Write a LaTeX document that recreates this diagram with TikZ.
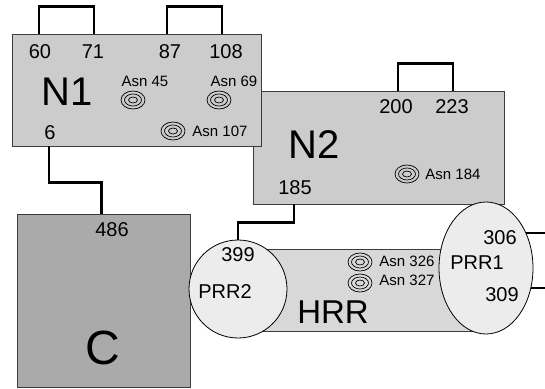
\documentclass[tikz,border=0pt]{standalone}
\usepackage{fontspec}
\setmainfont{Liberation Sans}
\usepackage{tikz}
\usetikzlibrary{calc,positioning,shapes.geometric}
\definecolor{DomGray}{RGB}{204,204,204}
\definecolor{CGray}{RGB}{170,170,170}
\definecolor{HrrGray}{RGB}{216,216,216}
\definecolor{PrrGray}{RGB}{236,236,236}
\definecolor{EdgeGray}{RGB}{60,60,60}
\tikzset{
  dom/.style={rectangle,draw=EdgeGray,line width=.8pt,inner sep=0pt},
  link/.style={line width=2.6pt,black},
  res/.style={font=\fontsize{20}{20}\selectfont,inner sep=0pt},
  asn/.style={font=\fontsize{15}{15}\selectfont,inner sep=0pt},
  glyco/.pic={\draw[line width=.7pt] (0,0) ellipse (12pt and 9pt);
    \draw[line width=.7pt] (0,0) ellipse (8.5pt and 6pt);
    \draw[line width=.7pt] (0,0) ellipse (4.5pt and 3pt);}
}

\begin{document}
\begin{tikzpicture}[x=1pt,y=-1pt]
\useasboundingbox (0,0) rectangle (545,388);
% domains
\node[dom,fill=DomGray,minimum width=251pt,minimum height=113pt] (n2) at (378.5,147.5){};
\node[dom,fill=DomGray,minimum width=249pt,minimum height=112pt] (n1) at (136.5,90){};
\node[dom,fill=CGray,minimum width=173pt,minimum height=173pt] (cdom) at (103.5,300.5){};
\node[dom,fill=HrrGray,minimum width=248pt,minimum height=82pt] (hrr) at (362,290){};
\node[circle,draw=black,line width=.8pt,fill=PrrGray,minimum size=98pt,inner sep=0pt] (prr2) at (238,289){};
\node[ellipse,draw=black,line width=.8pt,fill=PrrGray,minimum width=94pt,minimum height=132pt,inner sep=0pt] (prr1) at (486,268){};
% domain names
\node[font=\fontsize{40}{40}\selectfont] (n1name) at (67,92){N1};
\node[font=\fontsize{40}{40}\selectfont] (n2name) at (314,145){N2};
\node[font=\fontsize{48}{48}\selectfont] (cname) at (103,348){C};
\node[font=\fontsize{33}{33}\selectfont] (hrrname) at (333,312){HRR};
\node[res] (prr2name) at (225,292){PRR2};
\node[res] (prr1name) at (477,263){PRR1};
% residue numbers
\foreach \nm/\x/\y/\t in {r60/40/52/60,r71/93/52/71,r87/170/52/87,r108/226/52/108,r6/50/133/6,
  r200/396/107/200,r223/452/107/223,r185/295/188/185,r486/112/230/486,r399/238/255/399,
  r306/500/238/306,r309/502/295/309}{
\node[res] (\nm) at (\x,\y){\t};}
% glycosylation sites
\foreach \nm/\x/\y in {g45/133/100,g69/219/100,g107/173/131,g184/407/174,g326/360/262,g327/360/283}{
\pic (\nm) at (\x,\y) {glyco};}
\foreach \nm/\x/\y/\t in {a45/145/81/Asn 45,a69/234/81/Asn 69,a107/220/131/Asn 107,
  a184/453/174/Asn 184,a326/407/261/Asn 326,a327/407/280/Asn 327}{
\node[asn] (\nm) at (\x,\y){\t};}
% disulfide links
\draw[link] ([xshift=-1pt]r60 |- n1.north) -- ++(0,-27) -| ([xshift=1pt]r71 |- n1.north);
\draw[link] ([xshift=-3pt]r87 |- n1.north) -- ++(0,-27) -| ([xshift=-4pt]r108 |- n1.north);
\draw[link] ([xshift=2pt]r200 |- n2.north) -- ++(0,-27) -| ([xshift=1pt]r223 |- n2.north);
\draw[link] ([xshift=-1pt]r6 |- n1.south) -- ++(0,36) -| ([xshift=-2pt]cdom.north);
\draw[link] ([xshift=-1pt]r185 |- n2.south) -- ++(0,18) -| (prr2.north);
\draw[link] (prr1.41) -- ++(25,0);
\draw[link] (prr1.-24) -- ++(25,0);
\end{tikzpicture}
\end{document}
